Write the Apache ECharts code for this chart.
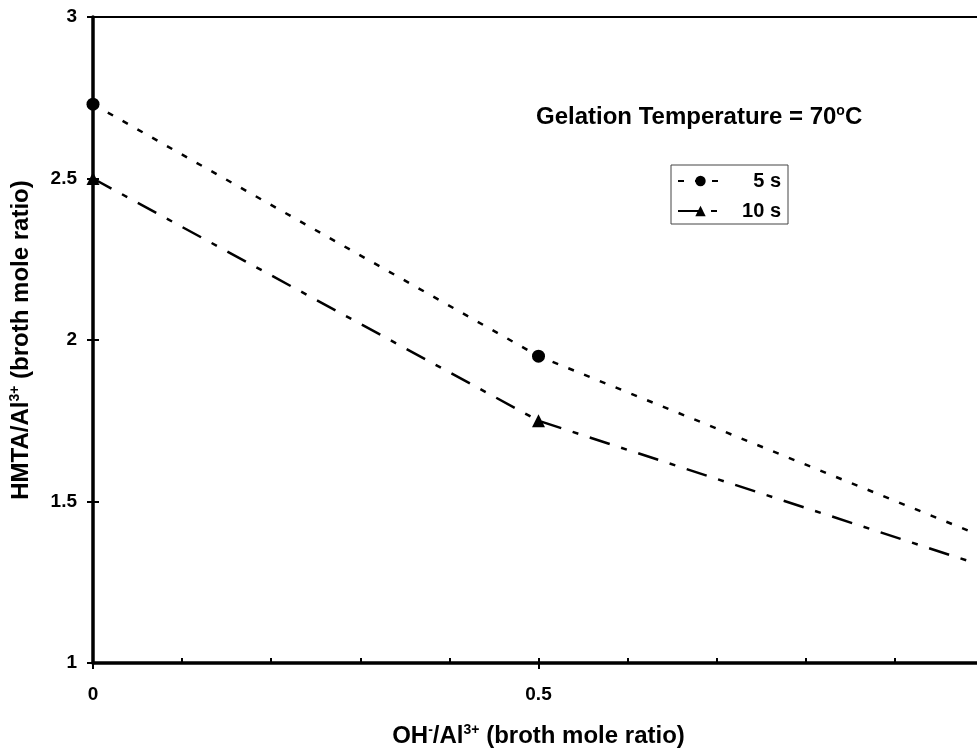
<!DOCTYPE html>
<html>
<head>
<meta charset="utf-8">
<script src="https://cdn.jsdelivr.net/npm/echarts@6/dist/echarts.min.js"></script>
<style>
html,body{margin:0;padding:0;background:#fff;}
#c{width:977px;height:748px;}
</style>
</head>
<body>
<div id="c"></div>
<script>
const xValues = [0, 0.5, 1];
const series5s = [2.73, 1.95, 1.39];
const series10s = [2.5, 1.75, 1.30];
const seriesNames = ['5 s', '10 s'];
const yTicks = [1, 1.5, 2, 2.5, 3];
const xTicks = [0, 0.5, 1];

const FONT = '"Liberation Sans", Arial, sans-serif';
const chart = echarts.init(document.getElementById('c'), null, {renderer: 'canvas'});

function pairs(ys) { return xValues.map((x, i) => [x, ys[i]]); }

const labelStyle = {color: '#000', fontFamily: FONT, fontWeight: 'bold', fontSize: 19};
function supRich(size) {
  return {
    sup: {fontSize: Math.round(size * 0.6), fontWeight: 'bold', fontFamily: FONT, color: '#000', verticalAlign: 'top', padding: [0, 0, Math.round(size * 0.55), 0]},
    n: {fontSize: size, fontWeight: 'bold', fontFamily: FONT, color: '#000'}
  };
}

chart.setOption({
  animation: false,
  backgroundColor: '#fff',
  grid: {left: 93, width: 891, top: 17, height: 646, containLabel: false, outerBoundsMode: 'none'},
  title: {
    text: '{n|Gelation Temperature = 70}{sup|o}{n|C}',
    left: 536, top: 104,
    padding: 0,
    textStyle: {rich: supRich(24)}
  },
  legend: {
    orient: 'vertical',
    left: 671, top: 165,
    data: seriesNames,
    borderColor: '#444', borderWidth: 1,
    padding: [6, 7, 3, 6],
    itemWidth: 45, itemHeight: 13, itemGap: 10,
    formatter: function (n) { return '{t|' + n + '}'; },
    textStyle: {rich: {t: {width: 53, height: 21, align: 'right', fontFamily: FONT, fontWeight: 'bold', fontSize: 20, color: '#000'}}}
  },
  xAxis: [{
    type: 'value', min: 0, max: 1, interval: 0.5,
    position: 'bottom',
    axisLine: {show: true, onZero: false, lineStyle: {color: '#000', width: 3.5}},
    axisTick: {show: true, inside: false, length: 6, lineStyle: {color: '#000', width: 2}},
    axisLabel: Object.assign({margin: 22, formatter: v => String(v)}, labelStyle),
    splitLine: {show: false},
    name: '{n|OH}{sup|-}{n|/Al}{sup|3+}{n| (broth mole ratio)}',
    nameLocation: 'middle', nameGap: 60,
    nameTextStyle: {rich: supRich(24)}
  }, {
    type: 'value', min: 0, max: 1, interval: 0.1,
    position: 'bottom',
    axisLine: {show: false, onZero: false},
    axisTick: {show: true, inside: true, length: 5, lineStyle: {color: '#000', width: 2}},
    axisLabel: {show: false},
    splitLine: {show: false}
  }, {
    type: 'value', min: 0, max: 1, position: 'top',
    axisLine: {show: true, onZero: false, lineStyle: {color: '#000', width: 2}},
    axisTick: {show: false}, axisLabel: {show: false}, splitLine: {show: false}
  }],
  yAxis: [{
    type: 'value', min: 1, max: 3, interval: 0.5,
    position: 'left',
    axisLine: {show: true, onZero: false, lineStyle: {color: '#000', width: 3.5}},
    axisTick: {show: true, inside: false, length: 6, lineStyle: {color: '#000', width: 2}},
    axisLabel: Object.assign({margin: 16, formatter: v => String(v)}, labelStyle),
    splitLine: {show: false},
    name: '{n|HMTA/Al}{sup|3+}{n| (broth mole ratio)}',
    nameLocation: 'middle', nameGap: 58, nameRotate: 90,
    nameTextStyle: {rich: supRich(24)}
  }, {
    type: 'value', min: 1, max: 3, interval: 0.5,
    position: 'left',
    axisLine: {show: false, onZero: false},
    axisTick: {show: true, inside: true, length: 6, lineStyle: {color: '#000', width: 2}},
    axisLabel: {show: false},
    splitLine: {show: false}
  }],
  series: [{
    name: seriesNames[0], type: 'line',
    data: pairs(series5s),
    symbol: 'circle', symbolSize: 13,
    itemStyle: {color: '#000'},
    lineStyle: {color: '#000', width: 2.5, type: [6, 11]},
    clip: false
  }, {
    name: seriesNames[1], type: 'line',
    data: pairs(series10s),
    symbol: 'triangle', symbolSize: 13,
    itemStyle: {color: '#000'},
    lineStyle: {color: '#000', width: 2.5, type: [21, 12, 6, 12]},
    clip: false
  }]
});
</script>
</body>
</html>
